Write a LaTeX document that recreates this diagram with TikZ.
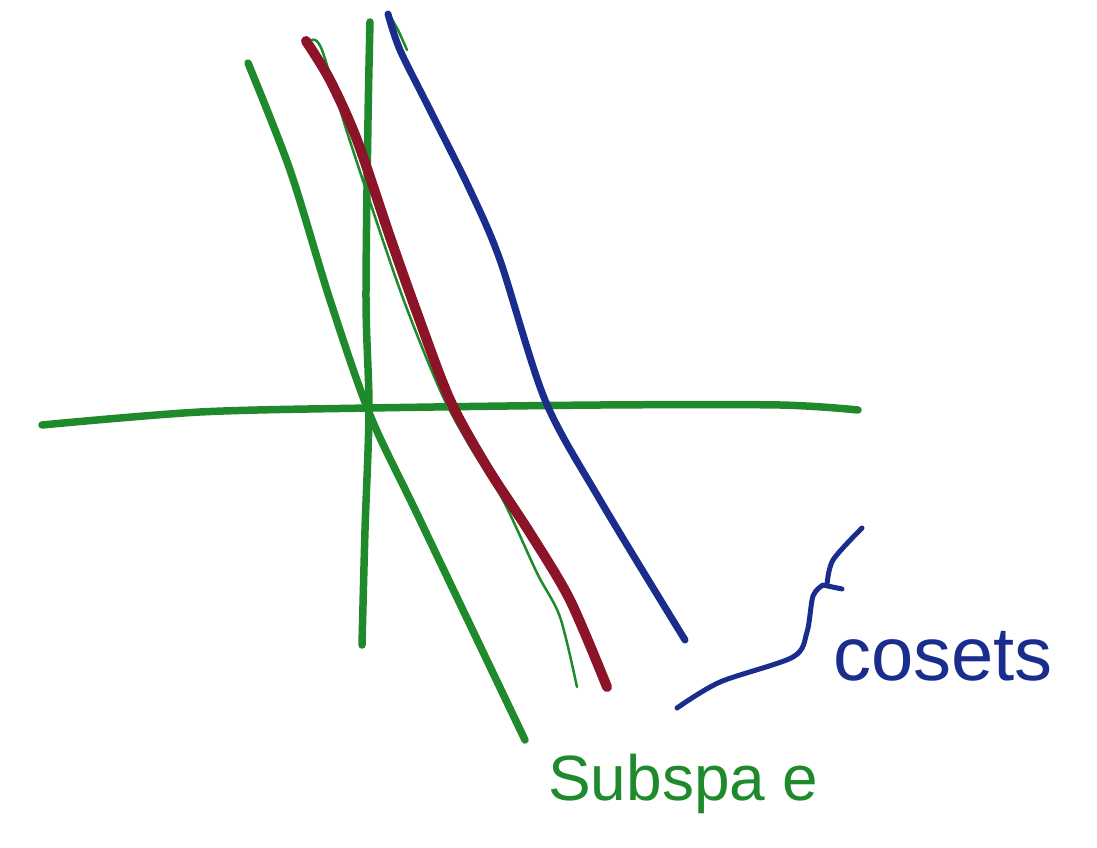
\documentclass[tikz,border=0pt]{standalone}
\usepackage{fontspec}
\setmainfont{Liberation Sans}
\definecolor{Leaf}{HTML}{1F8A2B}
\definecolor{Navy}{HTML}{1A2D8C}
\definecolor{Wine}{HTML}{8C1428}
\tikzset{
 axis/.style={draw=Leaf,line width=7.5pt,line cap=round,line join=round},
 hair/.style={draw=Leaf,line width=2.5pt,line cap=round},
 coset/.style={draw=Navy,line width=7pt,line cap=round,line join=round},
 shifted/.style={draw=Wine,line width=10pt,line cap=round,line join=round},
 word/.style={inner sep=0pt,anchor=base west}
}
\begin{document}
\begin{tikzpicture}[x=1pt,y=-1pt]
\useasboundingbox (0,0) rectangle (1097,848);
% axes
\draw[axis] plot[smooth] coordinates {(42,425) (200,412) (370,408) (600,405) (780,405) (858,410)};
\draw[axis] plot[smooth] coordinates {(370,22) (368,120) (366,300) (369,410) (365,530) (362,645)};
% subspace
\draw[axis] plot[smooth] coordinates {(248,63) (290,170) (330,300) (370,415) (420,520) (525,740)};
% thin sketch lines
\draw[hair] plot[smooth] coordinates {(312,40) (322,50) (348,135) (400,290) (440,390) (468,443) (503,500) (537,573) (560,617) (577,687)};
\draw[hair] plot[smooth] coordinates {(390,16) (398,30) (407,50)};
% cosets
\draw[shifted] plot[smooth] coordinates {(306,41) (330,80) (357,140) (390,237) (417,313) (450,400) (487,467) (530,533) (570,600) (607,687)};
\draw[coset] plot[smooth] coordinates {(388,14) (400,50) (430,110) (470,190) (500,260) (545,400) (600,500) (685,640)};
% brace
\draw[coset,line width=5pt] plot[smooth] coordinates {(677,708) (720,682) (793,657) (807,632) (813,596) (823,585)} -- (842,589);
\draw[coset,line width=5pt] plot[smooth] coordinates {(827,585) (833,560) (862,528)};
\node[word,text=Navy,font=\fontsize{76}{80}\selectfont] (cosets) at (833,680) {cosets};
\node[word,text=Leaf,font=\fontsize{64}{70}\selectfont] (subspace) at (548,800) {Subspa e};
\end{tikzpicture}
\end{document}
